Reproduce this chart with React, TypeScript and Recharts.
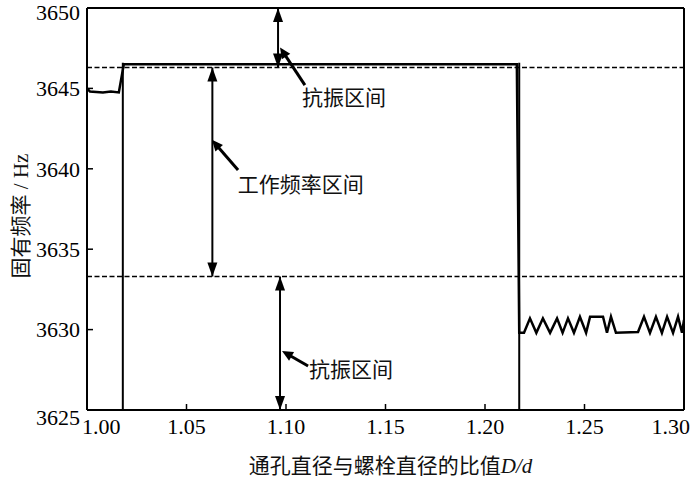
import React from 'react'
import {
  LineChart, Line, XAxis, YAxis, ReferenceLine, ReferenceDot,
} from 'recharts'

// D/d ratio vs natural frequency
const ratio = [
  1.0, 1.0015, 1.008, 1.012, 1.016, 1.0185, 1.05, 1.1, 1.15, 1.2, 1.216,
  1.2172, 1.2196, 1.2226, 1.2258, 1.2291, 1.2327, 1.2362, 1.239, 1.2417, 1.2447, 1.2477,
  1.2508, 1.2528, 1.2593, 1.2613, 1.2633, 1.2658, 1.2769, 1.2799, 1.2829, 1.2859, 1.2889,
  1.2915, 1.2945, 1.297, 1.299, 1.3,
]
const freq = [
  3645.0, 3644.8, 3644.75, 3644.8, 3644.75, 3646.5, 3646.5, 3646.5, 3646.5, 3646.5, 3646.5,
  3629.8, 3629.8, 3630.7, 3629.8, 3630.7, 3629.8, 3630.7, 3629.8, 3630.7, 3629.8, 3630.8,
  3629.8, 3630.8, 3630.8, 3629.8, 3630.8, 3629.8, 3629.85, 3630.8, 3629.8, 3630.8, 3629.8,
  3630.8, 3629.8, 3630.8, 3629.8, 3630.6,
]
const data = ratio.map((x, i) => ({ x, y: freq[i] }))

const xTicks = [1.0, 1.05, 1.1, 1.15, 1.2, 1.25, 1.3]
const yTicks = [3625, 3630, 3635, 3640, 3645, 3650]

// limits of the working band
const bandTop = 3646.3
const bandBottom = 3633.3
const edges = [1.018, 1.2172]

// double arrows: [x, yFrom, yTo]
const spans = [
  [1.096, 3650, bandTop],
  [1.063, bandTop, bandBottom],
  [1.097, bandBottom, 3625],
]
// pointers: [xFrom, yFrom, xTip, yTip]
const pointers = [
  [1.1095, 3645.2, 1.097, 3647.55],
  [1.0759, 3639.93, 1.0628, 3641.8],
  [1.1111, 3627.74, 1.098, 3628.67],
]
// text notes: [x, y, text]
const notes: [number, number, string][] = [
  [1.108, 3643.95, '抗振区间'],
  [1.0757, 3638.55, '工作频率区间'],
  [1.1116, 3627.05, '抗振区间'],
]

const FONT = "'Liberation Serif', 'Times New Roman', 'Noto Sans CJK SC', serif"

const head = (tx: number, ty: number, fx: number, fy: number, len: number, hw: number) => {
  const dx = tx - fx
  const dy = ty - fy
  const d = Math.sqrt(dx * dx + dy * dy) || 1
  const ux = dx / d
  const uy = dy / d
  const bx = tx - ux * len
  const by = ty - uy * len
  return `${tx},${ty} ${bx - uy * hw},${by + ux * hw} ${bx + uy * hw},${by - ux * hw}`
}

const DoubleArrow = (p: any) => {
  const { x1, y1, x2, y2 } = p
  return (
    <g>
      <line x1={x1} y1={y1} x2={x2} y2={y2} stroke="#000" strokeWidth={2} />
      <polygon points={head(x1, y1, x2, y2, 14, 5)} fill="#000" />
      <polygon points={head(x2, y2, x1, y1, 14, 5)} fill="#000" />
    </g>
  )
}

const Pointer = (p: any) => {
  const { x1, y1, x2, y2 } = p
  const dx = x2 - x1
  const dy = y2 - y1
  const d = Math.sqrt(dx * dx + dy * dy) || 1
  return (
    <g>
      <line x1={x1} y1={y1} x2={x2 - (dx / d) * 8} y2={y2 - (dy / d) * 8} stroke="#000" strokeWidth={3} />
      <polygon points={head(x2, y2, x1, y1, 11, 5)} fill="#000" />
    </g>
  )
}

const Note = (text: string) => (p: any) => (
  <text x={p.cx} y={p.cy} fontSize={21} fontFamily={FONT} fill="#111">{text}</text>
)

const XTick = (p: any) => {
  const v = p.payload.value
  let anchor: 'start' | 'middle' | 'end' = 'middle'
  let x = p.x
  if (v === 1.0) { anchor = 'start'; x = p.x - 5 }
  if (v === 1.3) { anchor = 'end'; x = p.x + 6 }
  return (
    <text x={x} y={p.y} dy="0.71em" textAnchor={anchor} fontSize={22} fontFamily={FONT} fill="#000">
      {v.toFixed(2)}
    </text>
  )
}

const YTick = (p: any) => {
  const v = p.payload.value
  let shift = 0
  if (v === 3650) shift = 4
  if (v === 3625) shift = 7
  return (
    <text x={p.x} y={p.y + shift} dy="0.355em" textAnchor="end" fontSize={22} fontFamily={FONT} fill="#000">
      {v}
    </text>
  )
}

const App: React.FC = () => {
  return (
    <div style={{ position: 'absolute', left: 0, top: 0 }}>
      <LineChart width={700} height={481} data={data} margin={{ top: 0, right: 0, bottom: 0, left: 0 }}>
        <XAxis
          dataKey="x"
          type="number"
          domain={[1.0, 1.3]}
          ticks={xTicks}
          height={71}
          axisLine={{ stroke: '#000', strokeWidth: 2 }}
          tickLine={{ stroke: '#000', strokeWidth: 1.5 }}
          tickSize={-6}
          tickMargin={14}
          tick={XTick}
          interval={0}
          allowDataOverflow
          label={(lp: any) => {
            const vb = lp.viewBox
            return (
              <text x={vb.x + vb.width / 2 + 5} y={473} textAnchor="middle" fontSize={21} fontFamily={FONT} fill="#111">
                通孔直径与螺栓直径的比值<tspan fontStyle="italic">D/d</tspan>
              </text>
            )
          }}
        />
        <XAxis
          xAxisId="top"
          orientation="top"
          type="number"
          domain={[1.0, 1.3]}
          ticks={xTicks}
          height={8}
          axisLine={{ stroke: '#000', strokeWidth: 2 }}
          tickLine={{ stroke: '#000', strokeWidth: 1.5 }}
          tickSize={-6}
          tick={false}
          interval={0}
          allowDataOverflow
        />
        <YAxis
          type="number"
          domain={[3625, 3650]}
          ticks={yTicks}
          width={87}
          axisLine={{ stroke: '#000', strokeWidth: 2 }}
          tickLine={{ stroke: '#000', strokeWidth: 1.5 }}
          tickSize={-6}
          tickMargin={13}
          tick={YTick}
          interval={0}
          allowDataOverflow
          label={(lp: any) => {
            const vb = lp.viewBox
            const cx = 21
            const cy = vb.y + vb.height / 2 + 7
            return (
              <text x={cx} y={cy} transform={`rotate(-90 ${cx} ${cy})`} textAnchor="middle" dominantBaseline="central" fontSize={21} fontFamily={FONT} fill="#111">
                固有频率 / Hz
              </text>
            )
          }}
        />
        <YAxis
          yAxisId="right"
          orientation="right"
          type="number"
          domain={[3625, 3650]}
          ticks={yTicks}
          width={16}
          axisLine={{ stroke: '#000', strokeWidth: 2 }}
          tickLine={{ stroke: '#000', strokeWidth: 1.5 }}
          tickSize={-6}
          tick={false}
          interval={0}
          allowDataOverflow
        />
        <ReferenceLine y={bandTop} stroke="#000" strokeWidth={1.5} strokeDasharray="5 2.5" />
        <ReferenceLine y={bandBottom} stroke="#000" strokeWidth={1.5} strokeDasharray="5 2.5" />
        {edges.map((e, i) => (
          <ReferenceLine
            key={`e${i}`}
            segment={[{ x: e, y: 3625 }, { x: e, y: 3646.6 }]}
            stroke="#000"
            strokeWidth={2}
          />
        ))}
        <Line
          type="linear"
          dataKey="y"
          stroke="#000"
          strokeWidth={2.5}
          dot={false}
          isAnimationActive={false}
        />
        {spans.map((s, i) => (
          <ReferenceLine
            key={`s${i}`}
            segment={[{ x: s[0], y: s[1] }, { x: s[0], y: s[2] }]}
            shape={DoubleArrow}
          />
        ))}
        {pointers.map((p, i) => (
          <ReferenceLine
            key={`p${i}`}
            segment={[{ x: p[0], y: p[1] }, { x: p[2], y: p[3] }]}
            shape={Pointer}
          />
        ))}
        {notes.map((n, i) => (
          <ReferenceDot key={`n${i}`} x={n[0]} y={n[1]} r={1} shape={Note(n[2])} />
        ))}
      </LineChart>
    </div>
  )
}

export default App
